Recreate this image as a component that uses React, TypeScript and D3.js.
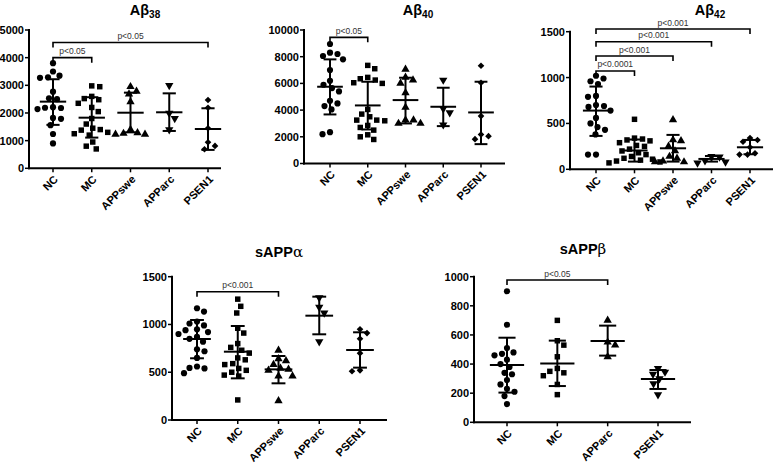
import React from "react";
import * as d3 from "d3";

// ---------- categories ----------
const categories5 = ["NC", "MC", "APPswe", "APParc", "PSEN1"];
const categories4 = ["NC", "MC", "APParc", "PSEN1"];

// ---------- Aβ38 ----------
const ab38Ticks = [0, 1000, 2000, 3000, 4000, 5000];
const ab38Values = [
  [3800, 3500, 3350, 3290, 3270, 2770, 2530, 2500, 2210, 2180, 2140, 2190, 1820, 1790, 1560, 1240, 900],
  [2980, 2950, 2600, 2520, 2480, 2350, 2200, 2050, 1800, 1600, 1450, 1400, 1380, 1300, 1250, 1200, 950, 800, 700],
  [2950, 2780, 2680, 2400, 1400, 1280, 1230, 1230, 1260],
  [3000, 1990, 1800, 1400],
  [2470, 2190, 1450, 940, 810, 690],
];
const ab38Mean = [2410, 1830, 2010, 2025, 1420];
const ab38Upper = [3220, 2570, 2735, 2710, 2170];
const ab38Lower = [1570, 1110, 1300, 1350, 665];
const ab38Brackets = [
  { from: "NC", to: "MC", level: 4000, label: "p<0.05" },
  { from: "NC", to: "PSEN1", level: 4550, label: "p<0.05" },
];

// ---------- Aβ40 ----------
const ab40Ticks = [0, 2000, 4000, 6000, 8000, 10000];
const ab40Values = [
  [8950, 8300, 8200, 8050, 7800, 7000, 6200, 5900, 5650, 5400, 4700, 4500, 4300, 4050, 2350, 2200],
  [7350, 7100, 6450, 6350, 6250, 6050, 6000, 4050, 3700, 3500, 3250, 3250, 3200, 2850, 2700, 2500, 2150, 2000, 1800],
  [7050, 6450, 6250, 6000, 5300, 4200, 3250, 3250, 3000, 3000],
  [6250, 4100, 3800, 2900],
  [7325, 6050, 3550, 2175, 2050, 1825],
];
const ab40Mean = [5750, 4350, 4750, 4250, 3825];
const ab40Upper = [7800, 6125, 6425, 5675, 6125];
const ab40Lower = [3675, 2550, 3000, 2800, 1450];
const ab40Brackets = [{ from: "NC", to: "MC", level: 9450, label: "p<0.05" }];

// ---------- Aβ42 ----------
const ab42Ticks = [0, 500, 1000, 1500];
const ab42Values = [
  [1020, 990, 960, 930, 800, 790, 700, 690, 680, 640, 560, 500, 460, 430, 380, 160, 160],
  [545, 340, 330, 320, 310, 290, 260, 250, 220, 200, 180, 160, 140, 120, 110, 100, 90, 80, 70],
  [540, 320, 310, 250, 200, 140, 120, 90, 80, 80],
  [135, 140, 95, 80, 70],
  [340, 320, 300, 240, 175, 160, 160],
];
const ab42Mean = [640, 205, 229, 113, 240];
const ab42Upper = [902, 325, 375, 145, 320];
const ab42Lower = [364, 84, 84, 84, 164];
const ab42Brackets = [
  { from: "NC", to: "MC", level: 1072, label: "p<0.0001" },
  { from: "NC", to: "APPswe", level: 1235, label: "p<0.001" },
  { from: "NC", to: "APParc", level: 1391, label: "p<0.001" },
  { from: "NC", to: "PSEN1", level: 1529, label: "p<0.001" },
];

// ---------- sAPPα ----------
const sappaTicks = [0, 500, 1000, 1500];
const sappaValues = [
  [1170, 1135, 1030, 1010, 990, 950, 940, 920, 900, 870, 850, 820, 740, 720, 650, 560, 545, 540, 490],
  [1265, 1190, 1120, 960, 910, 800, 760, 730, 700, 650, 630, 590, 580, 540, 520, 500, 470, 460, 210],
  [730, 640, 620, 580, 540, 530, 520, 460, 460, 200],
  [1280, 1180, 1120, 820],
  [950, 910, 850, 700, 520, 510],
];
const sappaMean = [848, 715, 530, 1092, 733];
const sappaUpper = [1047, 984, 670, 1291, 918];
const sappaLower = [646, 436, 384, 897, 548];
const sappaBrackets = [{ from: "NC", to: "APPswe", level: 1343, label: "p<0.001" }];

// ---------- sAPPβ ----------
const sappbTicks = [0, 200, 400, 600, 800, 1000];
const sappbValues = [
  [900, 670, 510, 480, 470, 460, 430, 400, 380, 340, 330, 290, 260, 230, 210, 180, 125],
  [700, 560, 530, 450, 370, 350, 340, 320, 260, 190],
  [700, 550, 530, 450],
  [370, 345, 330, 300, 265, 190],
];
const sappbMean = [394, 403, 558, 297];
const sappbUpper = [581, 561, 664, 359];
const sappbLower = [204, 249, 458, 229];
const sappbBrackets = [{ from: "NC", to: "APParc", level: 977, label: "p<0.05" }];

// ---------- panel layout ----------
const PANELS = [
  {
    title: "Aβ", sub: "38", greek: false,
    cats: categories5, values: ab38Values, mean: ab38Mean, upper: ab38Upper, lower: ab38Lower,
    ticks: ab38Ticks, brackets: ab38Brackets,
    layout: { axisX: 29, top: 30, bottom: 168.3, first: 53, last: 208, end: 221, titleX: 145, titleY: 15 },
  },
  {
    title: "Aβ", sub: "40", greek: false,
    cats: categories5, values: ab40Values, mean: ab40Mean, upper: ab40Upper, lower: ab40Lower,
    ticks: ab40Ticks, brackets: ab40Brackets,
    layout: { axisX: 304, top: 30, bottom: 163.5, first: 330, last: 481, end: 505, titleX: 418, titleY: 15 },
  },
  {
    title: "Aβ", sub: "42", greek: false,
    cats: categories5, values: ab42Values, mean: ab42Mean, upper: ab42Upper, lower: ab42Lower,
    ticks: ab42Ticks, brackets: ab42Brackets,
    layout: { axisX: 570, top: 31.7, bottom: 169.3, first: 596, last: 750, end: 773, titleX: 710, titleY: 15 },
  },
  {
    title: "sAPP", sub: "α", greek: true,
    cats: categories5, values: sappaValues, mean: sappaMean, upper: sappaUpper, lower: sappaLower,
    ticks: sappaTicks, brackets: sappaBrackets,
    layout: { axisX: 172, top: 276.7, bottom: 420, first: 197, last: 360, end: 387, titleX: 279, titleY: 257 },
  },
  {
    title: "sAPP", sub: "β", greek: true,
    cats: categories4, values: sappbValues, mean: sappbMean, upper: sappbUpper, lower: sappbLower,
    ticks: sappbTicks, brackets: sappbBrackets,
    layout: { axisX: 474, top: 276.7, bottom: 422.3, first: 507, last: 658, end: 691, titleX: 583, titleY: 254 },
  },
];

const FONT = "Arial, 'Liberation Sans', Helvetica, sans-serif";

const SYMBOLS = [d3.symbolCircle, d3.symbolSquare, d3.symbolTriangle, d3.symbolTriangle, d3.symbolSquare];
const SYM_ROT = [0, 0, 0, 180, 45];
const SYM_SIZE = [30, 30, 30, 30, 22];

// beeswarm placement in pixel space
function swarm(ys: number[], minDist: number): number[] {
  const order = ys.map((_, i) => i).sort((a, b) => ys[a] - ys[b]);
  const placed: { x: number; y: number }[] = [];
  const out = new Array(ys.length).fill(0);
  let toggle = true;
  for (const i of order) {
    const y = ys[i];
    let chosen = 0;
    let found = false;
    for (let k = 0; k < 200 && !found; k++) {
      const signs = k === 0 ? [1] : toggle ? [1, -1] : [-1, 1];
      for (const s of signs) {
        const dx = k * 0.5 * s;
        const ok = placed.every((p) => (p.x - dx) ** 2 + (p.y - y) ** 2 >= minDist * minDist);
        if (ok) {
          chosen = dx;
          found = true;
          break;
        }
      }
    }
    if (chosen !== 0) toggle = !toggle;
    placed.push({ x: chosen, y });
    out[i] = chosen;
  }
  return out;
}

function Panel({ cfg }: { cfg: any }) {
  const L = cfg.layout;
  const yMax = cfg.ticks[cfg.ticks.length - 1];
  const y = d3.scaleLinear().domain([0, yMax]).range([L.bottom, L.top]);
  const x = d3.scalePoint<string>().domain(cfg.cats).range([L.first, L.last]);
  const step = x.step();
  const meanHalf = step * 0.34;
  const capHalf = step * 0.17;

  return (
    <g>
      {/* title */}
      <text x={L.titleX} y={L.titleY} textAnchor="middle" fontFamily={FONT} fontWeight="bold" fontSize={14.5}>
        {cfg.title}
        {cfg.greek ? (
          <tspan fontFamily="'DejaVu Serif', 'Liberation Serif', serif" fontWeight="normal" fontSize={15}>
            {cfg.sub}
          </tspan>
        ) : (
          <tspan fontSize={10} dy={3}>
            {cfg.sub}
          </tspan>
        )}
      </text>

      {/* y axis */}
      <line x1={L.axisX} x2={L.axisX} y1={L.top - 1} y2={L.bottom + 1} stroke="#000" strokeWidth={2} />
      {cfg.ticks.map((t: number) => (
        <g key={t}>
          <line x1={L.axisX - 4} x2={L.axisX} y1={y(t)} y2={y(t)} stroke="#000" strokeWidth={1.5} />
          <text x={L.axisX - 5} y={y(t)} dy="0.36em" textAnchor="end" fontFamily={FONT} fontWeight="bold" fontSize={11}>
            {t}
          </text>
        </g>
      ))}

      {/* x axis */}
      <line x1={L.axisX - 1} x2={L.end} y1={L.bottom} y2={L.bottom} stroke="#000" strokeWidth={2} />
      {cfg.cats.map((c: string) => (
        <g key={c}>
          <line x1={x(c)} x2={x(c)} y1={L.bottom} y2={L.bottom + 4} stroke="#000" strokeWidth={1.5} />
          <text
            transform={`translate(${(x(c) as number) + 3},${L.bottom + 9}) rotate(-45)`}
            textAnchor="end"
            dy="0.35em"
            fontFamily={FONT}
            fontWeight="bold"
            fontSize={11}
          >
            {c}
          </text>
        </g>
      ))}

      {/* points */}
      {cfg.values.map((vals: number[], gi: number) => {
        const cx = x(cfg.cats[gi]) as number;
        const ys = vals.map((v) => y(v));
        const offs = swarm(ys, 7.6);
        const path = d3.symbol().type(SYMBOLS[gi]).size(SYM_SIZE[gi])() as string;
        return (
          <g key={gi}>
            {vals.map((v, i) => (
              <path
                key={i}
                d={path}
                transform={`translate(${cx + offs[i]},${ys[i]}) rotate(${SYM_ROT[gi]})`}
                fill="#000"
              />
            ))}
          </g>
        );
      })}

      {/* mean and SD */}
      {cfg.cats.map((c: string, gi: number) => {
        const cx = x(c) as number;
        const ym = y(cfg.mean[gi]);
        const yu = y(cfg.upper[gi]);
        const yl = y(cfg.lower[gi]);
        return (
          <g key={c} stroke="#000" strokeWidth={2}>
            <line x1={cx} x2={cx} y1={yu} y2={yl} />
            <line x1={cx - meanHalf} x2={cx + meanHalf} y1={ym} y2={ym} />
            <line x1={cx - capHalf} x2={cx + capHalf} y1={yu} y2={yu} />
            <line x1={cx - capHalf} x2={cx + capHalf} y1={yl} y2={yl} />
          </g>
        );
      })}

      {/* significance brackets */}
      {cfg.brackets.map((b: any, i: number) => {
        const x1 = x(b.from) as number;
        const x2 = x(b.to) as number;
        const yb = y(b.level);
        return (
          <g key={i}>
            <path
              d={`M${x1},${yb + 5}L${x1},${yb}L${x2},${yb}L${x2},${yb + 5}`}
              fill="none"
              stroke="#000"
              strokeWidth={1.6}
            />
            <text x={(x1 + x2) / 2} y={yb - 3.5} textAnchor="middle" fontFamily={FONT} fontSize={8.5} fill="#333">
              {b.label}
            </text>
          </g>
        );
      })}
    </g>
  );
}

export default function App() {
  return (
    <svg
      width={778}
      height={465}
      viewBox="0 0 778 465"
      style={{ position: "absolute", left: 0, top: 0, background: "#fff" }}
    >
      <rect x={0} y={0} width={778} height={465} fill="#fff" />
      {PANELS.map((p, i) => (
        <Panel key={i} cfg={p} />
      ))}
    </svg>
  );
}
